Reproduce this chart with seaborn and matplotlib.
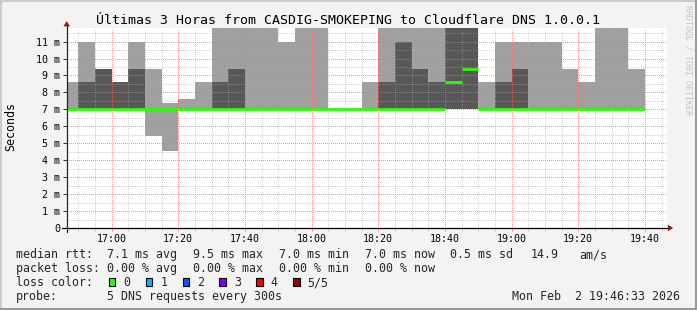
import matplotlib
matplotlib.use("Agg")
import matplotlib.pyplot as plt
import matplotlib.transforms as mtrans
from matplotlib.lines import Line2D
from matplotlib.patches import Polygon, Rectangle
from matplotlib.ticker import MultipleLocator
import numpy as np
import pandas as pd
import seaborn as sns

# ---------------- data ----------------
bar_start = ["16:45", "16:50", "16:55", "17:00", "17:05", "17:10", "17:15",
             "17:20", "17:25", "17:30", "17:35", "17:40", "17:45", "17:50",
             "17:55", "18:00", "18:05", "18:10", "18:15", "18:20", "18:25",
             "18:30", "18:35", "18:40", "18:45", "18:50", "18:55", "19:00",
             "19:05", "19:10", "19:15", "19:20", "19:25", "19:30", "19:35"]
bar_end = "19:40"

# ms; values above the top of the chart are clipped (drawn as 12.5)
rtt_min = [7.0, 7.0, 7.0, 7.0, 7.0, 5.45, 4.56,
           7.0, 7.0, 7.0, 7.0, 7.0, 7.0, 7.0,
           7.0, 7.0, 7.0, 7.0, 7.0, 7.0, 7.0,
           7.0, 7.0, 7.0, 7.0, 7.0, 7.0, 7.0,
           7.0, 7.0, 7.0, 7.0, 7.0, 7.0, 7.0]
rtt_p2 = [7.0, 7.0, 7.0, 7.0, 7.0, 7.0, 7.0,
          7.0, 7.0, 7.0, 7.0, 7.0, 7.0, 7.0,
          7.0, 7.0, 7.0, 7.0, 7.0, 7.0, 7.0,
          7.0, 7.0, 7.0, 7.0, 7.0, 7.0, 7.0,
          7.0, 7.0, 7.0, 7.0, 7.0, 7.0, 7.0]
rtt_median = [7.0, 7.0, 7.0, 7.0, 7.0, 7.0, 7.0,
              7.0, 7.0, 7.0, 7.0, 7.0, 7.0, 7.0,
              7.0, 7.0, 7.0, 7.0, 7.0, 7.0, 7.0,
              7.0, 7.0, 8.6, 9.4, 7.0, 7.0, 7.0,
              7.0, 7.0, 7.0, 7.0, 7.0, 7.0, 7.0]
rtt_p4 = [7.0, 8.6, 9.4, 8.6, 9.4, 7.0, 7.0,
          7.0, 7.0, 8.6, 9.4, 7.0, 7.0, 7.0,
          7.0, 7.0, 7.0, 7.0, 7.0, 8.6, 11.0,
          9.4, 8.6, 12.5, 12.5, 7.0, 8.6, 9.4,
          7.0, 7.0, 7.0, 7.0, 7.0, 7.0, 7.0]
rtt_max = [8.6, 11.0, 9.4, 8.6, 11.0, 9.4, 7.4,
           7.6, 8.6, 12.5, 12.5, 12.5, 12.5, 11.0,
           12.5, 12.5, 7.0, 7.0, 8.6, 12.5, 12.5,
           12.5, 12.5, 12.5, 12.5, 8.6, 11.0, 11.0,
           11.0, 11.0, 9.4, 8.6, 12.5, 12.5, 9.4]

view_start = "16:46:33"
view_end = "19:46:33"
y_max = 11.8
x_tick_times = ["17:00", "17:20", "17:40", "18:00", "18:20", "18:40",
                "19:00", "19:20", "19:40"]
y_ticks = [0, 1, 2, 3, 4, 5, 6, 7, 8, 9, 10, 11]
y_tick_labels = ["0", "1 m", "2 m", "3 m", "4 m", "5 m", "6 m", "7 m",
                 "8 m", "9 m", "10 m", "11 m"]

title = "Últimas 3 Horas from CASDIG-SMOKEPING to Cloudflare DNS 1.0.0.1"
y_label = "Seconds"
rtt_stats = ["7.1 ms avg", "9.5 ms max", "7.0 ms min", "7.0 ms now",
             "0.5 ms sd", "14.9", "am/s"]
loss_stats = ["0.00 % avg", "0.00 % max", "0.00 % min", "0.00 % now"]
loss_labels = ["0", "1", "2", "3", "4", "5/5"]
loss_colors = ["#26ff00", "#00b8ff", "#0059ff", "#7e00ff", "#ff0000", "#a10000"]
probe_text = "5 DNS requests every 300s"
stamp_text = "Mon Feb  2 19:46:33 2026"
watermark = "RRDTOOL / TOBI OETIKER"

# ---------------- style ----------------
sns.set_theme(style="white")
MONO = ["DejaVu Sans Mono"]
plt.rcParams["font.family"] = MONO

W, H = 697, 310
BG = "#f3f3f3"
fig = plt.figure(figsize=(W / 100, H / 100), dpi=100, facecolor=BG)

def fx(x):
    return x / W

def fy(y):
    return 1 - y / H

ax = fig.add_axes([fx(66.7), fy(228), 600 / W, 200 / H])
ax.set_facecolor("white")


def to_min(s):
    if s.count(":") == 1:
        s = s + ":00"
    return pd.to_timedelta(s).total_seconds() / 60.0

edges = np.array([to_min(s) for s in bar_start] + [to_min(bar_end)])

def ext(v):
    return np.append(np.asarray(v, float), v[-1])

ax.fill_between(edges, ext(rtt_min), ext(rtt_max), step="post",
                color="#a0a0a0", lw=0, zorder=1)
ax.fill_between(edges, ext(rtt_p2), ext(rtt_p4), step="post",
                color="#585858", lw=0, zorder=2)

# median: one horizontal segment per 5-minute step
seg = pd.DataFrame({
    "bar": np.repeat(np.arange(len(bar_start)), 2),
    "t": np.column_stack([edges[:-1], edges[1:]]).ravel(),
    "rtt": np.repeat(rtt_median, 2),
})
sns.lineplot(data=seg, x="t", y="rtt", units="bar", estimator=None,
             color="#26ff00", lw=2.0, ax=ax, legend=False, zorder=4,
             solid_capstyle="butt")

ax.set_xlim(to_min(view_start), to_min(view_end))
ax.set_ylim(0, y_max)
ax.set_xlabel("")
ax.set_ylabel("")

ax.set_xticks([to_min(s) for s in x_tick_times])
ax.set_xticklabels(x_tick_times)
ax.xaxis.set_minor_locator(MultipleLocator(5))
ax.set_yticks(y_ticks)
ax.set_yticklabels(y_tick_labels)
ax.yaxis.set_minor_locator(MultipleLocator(0.5))

ax.set_axisbelow(False)
ax.grid(which="major", color="#ff6a6a", alpha=0.7, lw=0.72,
        ls=(0, (1, 1.5)), antialiased=False)
ax.grid(which="minor", color="#a8a8a8", alpha=0.5, lw=0.72,
        ls=(0, (1, 1.5)), antialiased=False)

ax.tick_params(axis="y", which="major", length=3.0, width=0.72,
               color="#333333", pad=1.5, labelsize=7.2, labelcolor="black",
               left=True)
ax.tick_params(axis="y", which="minor", length=0)
ax.tick_params(axis="x", which="major", length=2.2, width=0.72,
               color="#ff8080", pad=2.0, labelsize=7.2, labelcolor="black",
               bottom=True)
ax.tick_params(axis="x", which="minor", length=2.2, width=0.72,
               color="#ffb0b0", bottom=True)
for lab in ax.get_xticklabels() + ax.get_yticklabels():
    lab.set_family(MONO)

for sp in ax.spines.values():
    sp.set_visible(False)

# axis lines with arrows (rrdtool style)
ax.add_line(Line2D([-0.008, 1.003], [0, 0], transform=ax.transAxes,
                   color="black", lw=0.9, clip_on=False, zorder=6))
ax.add_line(Line2D([0, 0], [-0.02, 1.01], transform=ax.transAxes,
                   color="#222222", lw=0.9, clip_on=False, zorder=6))
arrow_c = "#8b1a1a"
ax.add_patch(Polygon([[1.0108, 0], [1.002, 0.016], [1.002, -0.016]],
                     closed=True, transform=ax.transAxes, color=arrow_c,
                     clip_on=False, zorder=7, lw=0))
ax.add_patch(Polygon([[0, 1.034], [-0.0055, 1.008], [0.0055, 1.008]],
                     closed=True, transform=ax.transAxes, color=arrow_c,
                     clip_on=False, zorder=7, lw=0))

# ---------------- texts ----------------
fig.text(fx(348), fy(24), title, ha="center", va="baseline",
         fontsize=9.55, family=MONO, color="black")
fig.text(fx(11), fy(126.7), y_label, rotation=90, ha="center", va="center",
         fontsize=8.35, family=MONO, color="black")
fig.text(fx(688), fy(60), watermark, rotation=270, ha="center",
         va="center", fontsize=6.0, family=MONO, color="#c4c4c4")

LS = 8.35
row_y = [258.3, 272.3, 286.3, 300.2]
fig.text(fx(15.5), fy(row_y[0]), "median rtt:", fontsize=LS, family=MONO,
         va="baseline")
for x, s in zip([106.8, 192.8, 278.8, 365.2, 450.5, 530.2, 578.8], rtt_stats):
    fig.text(fx(x), fy(row_y[0]), s, fontsize=LS, family=MONO, va="baseline")

fig.text(fx(15.5), fy(row_y[1]), "packet loss:", fontsize=LS, family=MONO,
         va="baseline")
for x, s in zip([106.8, 192.8, 278.8, 365.2], loss_stats):
    fig.text(fx(x), fy(row_y[1]), s, fontsize=LS, family=MONO, va="baseline")

fig.text(fx(15.5), fy(row_y[2]), "loss color:", fontsize=LS, family=MONO,
         va="baseline")
box_x = [108.7, 145.7, 182.7, 219.3, 256.3, 293.3]
lab_x = [122.8, 160.5, 197.2, 233.8, 270.5, 307.5]
for bx, lx, lab, col in zip(box_x, lab_x, loss_labels, loss_colors):
    fig.add_artist(Rectangle((fx(bx), fy(286.3)), 6.7 / W, 8.0 / H,
                             transform=fig.transFigure, facecolor=col,
                             edgecolor="black", lw=0.8))
    fig.text(fx(lx), fy(row_y[2]), lab, fontsize=LS, family=MONO,
             va="baseline")

fig.text(fx(15.5), fy(row_y[3]), "probe:", fontsize=LS, family=MONO,
         va="baseline")
fig.text(fx(106.8), fy(row_y[3]), probe_text, fontsize=LS, family=MONO,
         va="baseline")
fig.text(fx(680.5), fy(row_y[3]), stamp_text, fontsize=LS, family=MONO,
         va="baseline", ha="right")

# ---------------- frame ----------------
ident = mtrans.IdentityTransform()
fig.add_artist(Line2D([0, W], [H - 1, H - 1], transform=ident,
                      color="#cbcbcb", lw=1.5))
fig.add_artist(Line2D([1, 1], [0, H], transform=ident,
                      color="#cbcbcb", lw=1.5))
fig.add_artist(Line2D([0, W], [1.5, 1.5], transform=ident,
                      color="#999999", lw=2.2))
fig.add_artist(Line2D([W - 1.5, W - 1.5], [0, H], transform=ident,
                      color="#999999", lw=2.2))

fig.savefig("out.png", dpi=100, facecolor=BG)
